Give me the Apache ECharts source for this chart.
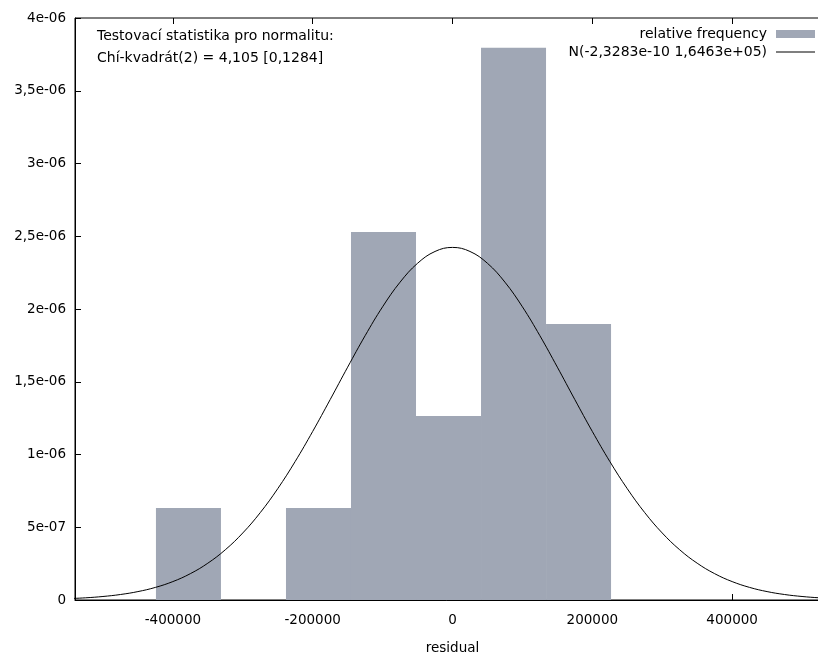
<!DOCTYPE html>
<html>
<head>
<meta charset="utf-8">
<script src="https://cdn.jsdelivr.net/npm/echarts@6/dist/echarts.min.js"></script>
<style>
  html, body { margin: 0; padding: 0; background: #fff; }
  #chart { width: 818px; height: 653px; }
</style>
</head>
<body>
<div id="chart"></div>
<script>
const FONT = 'DejaVu Sans';

// histogram bins (residual), relative frequency density
const binStart = [-424200, -331200, -238200, -145200, -52200, 40800, 133800];
const binEnd = [-331200, -238200, -145200, -52200, 40800, 133800, 226800];
const density = [6.32e-7, 0, 6.32e-7, 2.53e-6, 1.265e-6, 3.795e-6, 1.897e-6];

// normal curve
const curveX = [
  -550000, -525000, -500000, -475000, -450000, -425000, -400000, -375000, -350000,
  -325000, -300000, -275000, -250000, -225000, -200000, -175000, -150000, -125000,
  -100000, -75000, -50000, -25000, 0, 25000, 50000, 75000, 100000, 125000, 150000,
  175000, 200000, 225000, 250000, 275000, 300000, 325000, 350000, 375000, 400000,
  425000, 450000, 475000, 500000, 525000, 550000
];
const curveY = [
  9.1e-9, 1.50e-8, 2.41e-8, 3.77e-8, 5.78e-8, 8.65e-8, 1.266e-7, 1.810e-7, 2.529e-7,
  3.452e-7, 4.606e-7, 6.005e-7, 7.650e-7, 9.524e-7, 1.1586e-6, 1.3773e-6, 1.6001e-6, 1.8165e-6,
  2.0151e-6, 2.1844e-6, 2.3141e-6, 2.3955e-6, 2.4233e-6, 2.3955e-6, 2.3141e-6, 2.1844e-6, 2.0151e-6, 1.8165e-6, 1.6001e-6,
  1.3773e-6, 1.1586e-6, 9.524e-7, 7.650e-7, 6.005e-7, 4.606e-7, 3.452e-7, 2.529e-7, 1.810e-7, 1.266e-7,
  8.65e-8, 5.78e-8, 3.77e-8, 2.41e-8, 1.50e-8, 9.1e-9
];

const xTicks = [-400000, -200000, 0, 200000, 400000];
const yTickLabels = ['0', '5e-07', '1e-06', '1,5e-06', '2e-06', '2,5e-06', '3e-06', '3,5e-06', '4e-06'];

const histName = 'relative frequency';
const curveName = 'N(-2,3283e-10 1,6463e+05)';
const testLines = ['Testovací statistika pro normalitu:', 'Chí-kvadrát(2) = 4,105 [0,1284]'];

// thin horizontal line icon, padded so it keeps the 39x8 box
const LINE_ICON = 'path://M0,0L0.01,0L0.01,0.01Z M0,3.5L39,3.5L39,4.5L0,4.5Z M39,8L38.99,8L38.99,7.99Z';

let chart = echarts.init(document.querySelector('#chart'), null, { renderer: 'canvas' });

let histData = binStart.map((s, i) => [s, binEnd[i], density[i]]);
let curveData = curveX.map((x, i) => [x, curveY[i]]);

let option = {
  animation: false,
  textStyle: { fontFamily: FONT },
  grid: {
    left: 75, top: 18, right: -12, bottom: 53,
    outerBoundsMode: 'none',
    containLabel: false,
    show: true, borderColor: '#000', borderWidth: 1, backgroundColor: 'transparent'
  },
  legend: {
    orient: 'vertical',
    right: -2,
    top: 22,
    align: 'right',
    itemWidth: 39,
    itemHeight: 8,
    itemGap: 4,
    textStyle: { fontFamily: FONT, fontSize: 14, color: '#000', padding: [0, 4, 0, 0] },
    data: [
      { name: histName, icon: 'rect' },
      { name: curveName, icon: LINE_ICON, itemStyle: { color: '#000' } }
    ]
  },
  graphic: testLines.map((t, i) => ({
    type: 'text',
    left: 97,
    top: 29 + i * 22,
    style: { text: t, fill: '#000', font: '14px "' + FONT + '"' }
  })),
  xAxis: [
    {
      type: 'value',
      min: -540000,
      max: 540000,
      name: 'residual',
      nameLocation: 'middle',
      nameGap: 41,
      nameTextStyle: { fontFamily: FONT, fontSize: 13.5, color: '#000' },
      splitLine: { show: false },
      axisLine: { show: true, onZero: false, lineStyle: { color: '#000', width: 1 } },
      axisTick: { show: true, inside: true, length: 6, customValues: xTicks, lineStyle: { color: '#000' } },
      axisLabel: {
        customValues: xTicks,
        margin: 13,
        fontFamily: FONT,
        fontSize: 13.5,
        color: '#000',
        formatter: (v) => String(v)
      }
    },
    {
      type: 'value',
      position: 'top',
      min: -540000,
      max: 540000,
      splitLine: { show: false },
      axisLine: { show: false, onZero: false },
      axisTick: { show: true, inside: true, length: 6, customValues: xTicks, lineStyle: { color: '#000' } },
      axisLabel: { show: false }
    }
  ],
  yAxis: {
    type: 'value',
    min: 0,
    max: 4e-6,
    interval: 5e-7,
    splitLine: { show: false },
    axisLine: { show: true, onZero: false, lineStyle: { color: '#000' } },
    axisTick: { show: true, inside: true, length: 6, lineStyle: { color: '#000' } },
    axisLabel: {
      margin: 9,
      fontFamily: FONT,
      fontSize: 13.5,
      color: '#000',
      formatter: (v) => yTickLabels[Math.round(v / 5e-7)]
    }
  },
  series: [
    {
      name: histName,
      type: 'custom',
      itemStyle: { color: '#a0a7b5' },
      encode: { x: [0, 1], y: 2 },
      data: histData,
      renderItem: (params, api) => {
        let p0 = api.coord([api.value(0), api.value(2)]);
        let p1 = api.coord([api.value(1), 0]);
        return {
          type: 'rect',
          shape: { x: p0[0], y: p0[1], width: p1[0] - p0[0], height: p1[1] - p0[1] },
          style: { fill: '#a0a7b5' }
        };
      }
    },
    {
      name: curveName,
      type: 'line',
      data: curveData,
      smooth: 0.4,
      symbol: 'none',
      lineStyle: { color: '#000', width: 1 },
      itemStyle: { color: '#000' },
      z: 3
    }
  ]
};

chart.setOption(option);
</script>
</body>
</html>
